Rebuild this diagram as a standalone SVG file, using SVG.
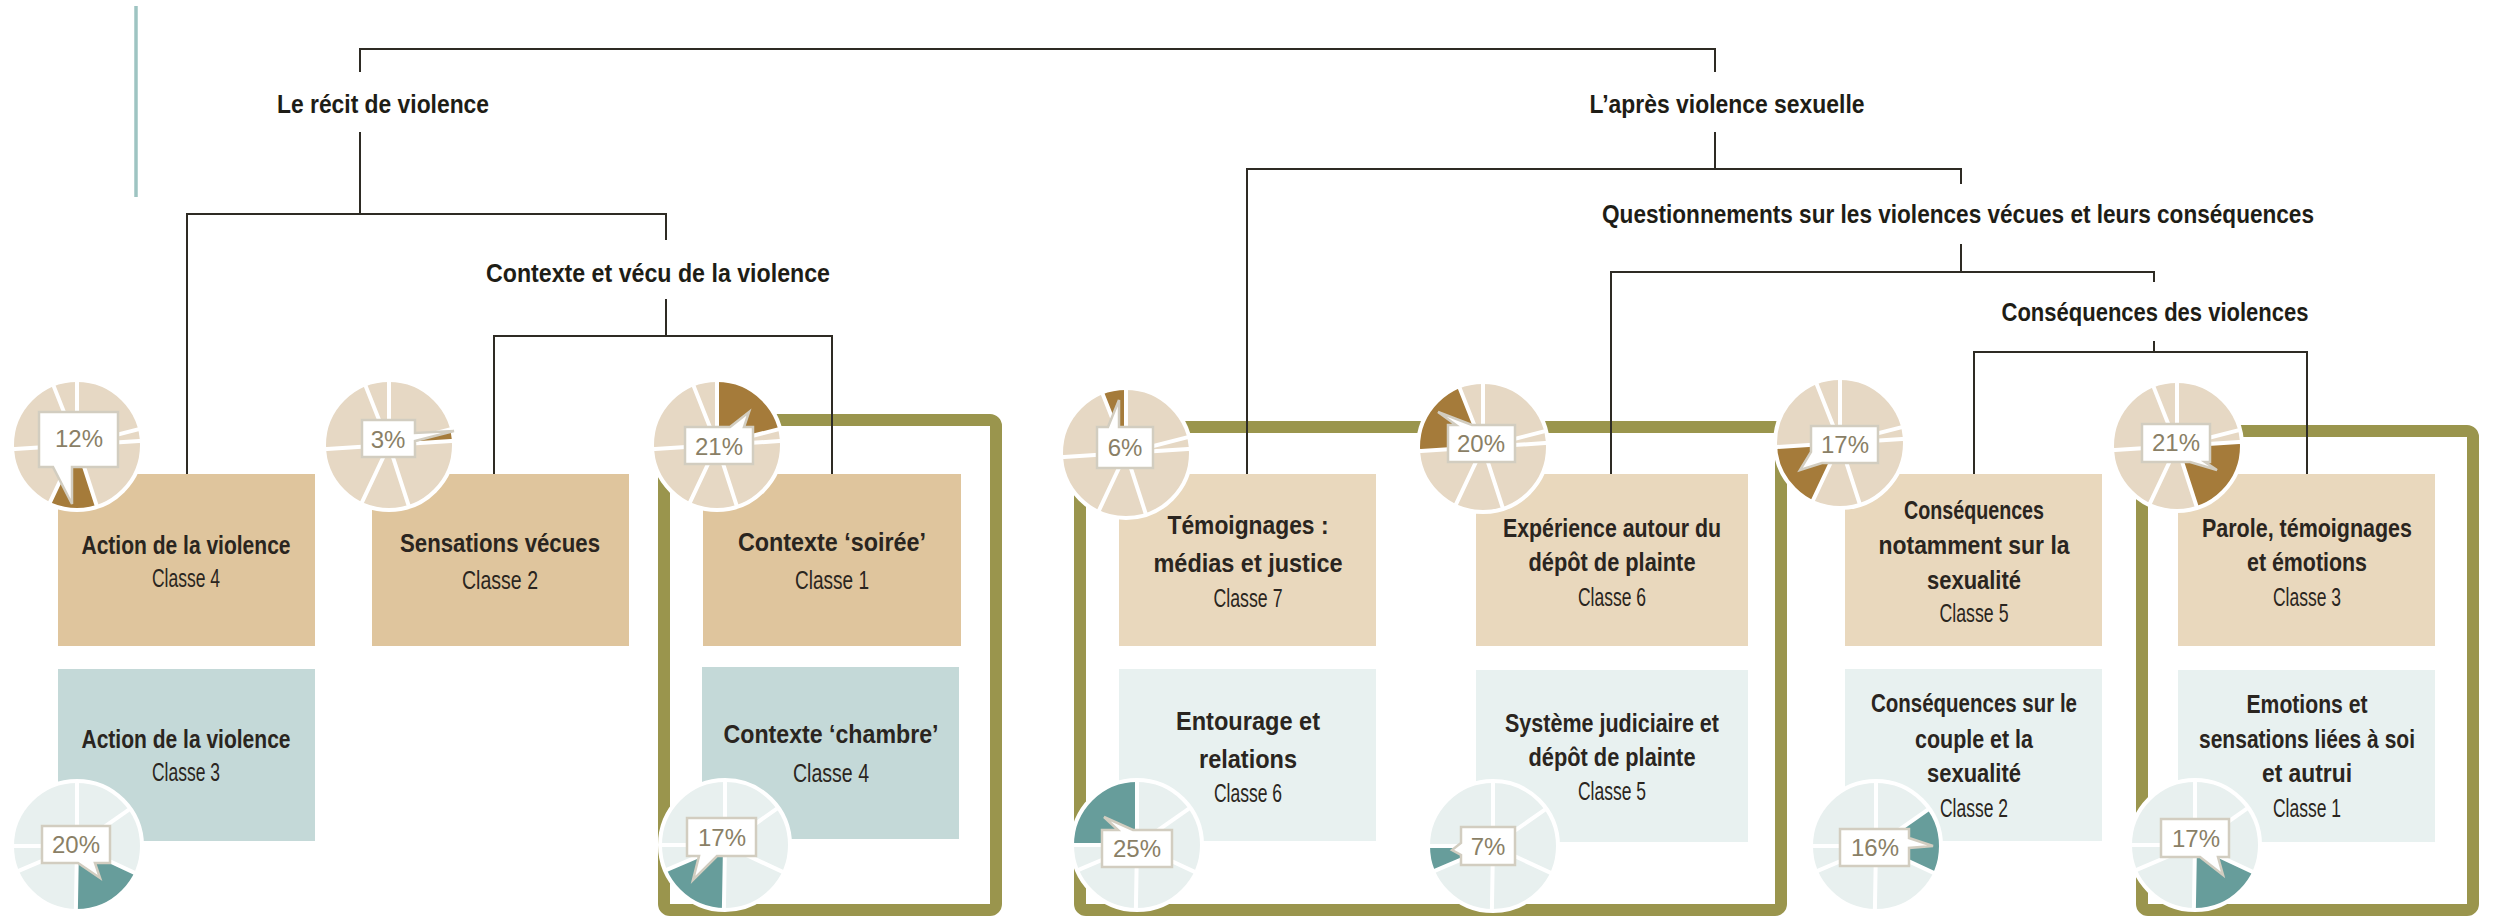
<svg xmlns="http://www.w3.org/2000/svg" xmlns:xlink="http://www.w3.org/1999/xlink" width="2501" height="917" viewBox="0 0 2501 917">
<style>
.bg{fill:#ffffff}
.conn{fill:none;stroke:#2E2B24;stroke-width:2}
.frame{fill:none;stroke:#9A954D;stroke-width:12}
.tanA{fill:#DFC59D}
.tealA{fill:#C4D9D8}
.tanB{fill:#E9D8BD}
.tealB{fill:#E8F1F0}
.hd{font-family:"Liberation Sans Narrow","Liberation Sans",Arial,sans-serif;font-weight:bold;font-size:26px;fill:#1E1D16;text-anchor:middle}
.tt{font-family:"Liberation Sans Narrow","Liberation Sans",Arial,sans-serif;font-weight:bold;font-size:25px;fill:#2A2520;text-anchor:middle}
.cl{font-family:"Liberation Sans Narrow","Liberation Sans",Arial,sans-serif;font-weight:normal;font-size:25px;fill:#2A2520;text-anchor:middle}
.tl{fill:#E6D8C4}
.th{fill:#A57B3A}
.cln{fill:#E8F0EF}
.chh{fill:#679D9B}
.sep{fill:none;stroke:#ffffff;stroke-width:4}
.co{fill:#ffffff;stroke:#D2CDC0;stroke-width:2.5;stroke-linejoin:miter}
.pc{font-family:"Liberation Sans",Arial,sans-serif;font-size:24px;fill:#8A7F66;text-anchor:middle}
</style>
<defs>
<g id="sepT">
<path class="sep" d="M0,0 L0,-66 M0,0 L63.93,-16.41 M0,0 L65.87,-4.14 M0,0 L20.39,62.77 M0,0 L-28.10,59.72 M0,0 L-65.87,4.14 M0,0 L-24.29,-61.37"/>
<circle class="sep" r="65"/>
</g>
<g id="sepC">
<path class="sep" d="M0,0 L0,-66 M0,0 L54.07,-37.86 M0,0 L59.82,27.89 M0,0 L-1.15,65.99 M0,0 L-60.75,25.79 M0,0 L-66,0"/>
<circle class="sep" r="65"/>
</g>
</defs>
<rect class="bg" x="0" y="0" width="2501" height="917"/>
<line x1="136" y1="6" x2="136" y2="197" stroke="#9EC4C2" stroke-width="3.5"/>

<g id="frames">
<rect class="frame" x="664" y="420" width="332" height="490" rx="6"/>
<rect class="frame" x="1080" y="427" width="701" height="483" rx="6"/>
<rect class="frame" x="2142" y="431" width="331" height="479" rx="6"/>
</g>

<g id="connectors">
<path class="conn" d="M360,72 V49 H1715 V72"/>
<path class="conn" d="M360,132 V214"/>
<path class="conn" d="M187,474 V214 H666 V240"/>
<path class="conn" d="M666,299 V336"/>
<path class="conn" d="M494,474 V336 H832 V474"/>
<path class="conn" d="M1715,132 V169"/>
<path class="conn" d="M1247,475 V169 H1961 V184"/>
<path class="conn" d="M1961,244 V272"/>
<path class="conn" d="M1611,475 V272 H2154 V282"/>
<path class="conn" d="M2154,341 V352"/>
<path class="conn" d="M1974,475 V352 H2307 V475"/>
</g>

<g id="labels">
<text class="hd" x="383" y="113" textLength="212" lengthAdjust="spacingAndGlyphs">Le récit de violence</text>
<text class="hd" x="658" y="282" textLength="344" lengthAdjust="spacingAndGlyphs">Contexte et vécu de la violence</text>
<text class="hd" x="1727" y="113" textLength="275" lengthAdjust="spacingAndGlyphs">L’après violence sexuelle</text>
<text class="hd" x="1958" y="223" textLength="712" lengthAdjust="spacingAndGlyphs">Questionnements sur les violences vécues et leurs conséquences</text>
<text class="hd" x="2155" y="321" textLength="307" lengthAdjust="spacingAndGlyphs">Conséquences des violences</text>
</g>

<!-- Tan row -->
<g id="n-action4">
<rect class="tanA" x="58" y="474" width="257" height="172"/>
<text class="tt" x="186" y="554" textLength="209" lengthAdjust="spacingAndGlyphs">Action de la violence</text>
<text class="cl" x="186" y="587" textLength="68" lengthAdjust="spacingAndGlyphs">Classe 4</text>
<g transform="translate(77,445)"><circle class="tl" r="65"/><path class="th" d="M0,0 L20.09,61.82 A65,65 0 0 1 -27.68,58.81 Z"/><use href="#sepT" xlink:href="#sepT"/></g>
<path class="co" d="M39,412 H118 V467 H72 L72,504 L53,467 H39 Z"/>
<text class="pc" x="79" y="447">12%</text>
</g>

<g id="n-sensations2">
<rect class="tanA" x="372" y="474" width="257" height="172"/>
<text class="tt" x="500" y="552" textLength="200" lengthAdjust="spacingAndGlyphs">Sensations vécues</text>
<text class="cl" x="500" y="589" textLength="76" lengthAdjust="spacingAndGlyphs">Classe 2</text>
<g transform="translate(389,445)"><circle class="tl" r="65"/><path class="th" d="M0,0 L62.96,-16.17 A65,65 0 0 1 64.87,-4.08 Z"/><use href="#sepT" xlink:href="#sepT"/></g>
<path class="co" d="M362,420 H415 V433 L454,431 L415,441 V457 H362 Z"/>
<text class="pc" x="388" y="448">3%</text>
</g>

<g id="n-soiree1">
<rect class="tanA" x="703" y="474" width="258" height="172"/>
<text class="tt" x="832" y="551" textLength="188" lengthAdjust="spacingAndGlyphs">Contexte ‘soirée’</text>
<text class="cl" x="832" y="589" textLength="74" lengthAdjust="spacingAndGlyphs">Classe 1</text>
<g transform="translate(717,445)"><circle class="tl" r="65"/><path class="th" d="M0,0 L0,-65 A65,65 0 0 1 62.96,-16.17 Z"/><use href="#sepT" xlink:href="#sepT"/></g>
<path class="co" d="M685,427 H730 L749,412 L744,427 H753 V464 H685 Z"/>
<text class="pc" x="719" y="455">21%</text>
</g>

<g id="n-temoignages7">
<rect class="tanB" x="1119" y="474" width="257" height="172"/>
<text class="tt" x="1248" y="534" textLength="161" lengthAdjust="spacingAndGlyphs">Témoignages :</text>
<text class="tt" x="1248" y="572" textLength="189" lengthAdjust="spacingAndGlyphs">médias et justice</text>
<text class="cl" x="1248" y="607" textLength="69" lengthAdjust="spacingAndGlyphs">Classe 7</text>
<g transform="translate(1126,453)"><circle class="tl" r="65"/><path class="th" d="M0,0 L-23.93,-60.44 A65,65 0 0 1 0,-65 Z"/><use href="#sepT" xlink:href="#sepT"/></g>
<path class="co" d="M1097,427 H1108 L1119,400 L1119,427 H1153 V468 H1097 Z"/>
<text class="pc" x="1125" y="456">6%</text>
</g>

<g id="n-experience6">
<rect class="tanB" x="1476" y="474" width="272" height="172"/>
<text class="tt" x="1612" y="537" textLength="218" lengthAdjust="spacingAndGlyphs">Expérience autour du</text>
<text class="tt" x="1612" y="571" textLength="167" lengthAdjust="spacingAndGlyphs">dépôt de plainte</text>
<text class="cl" x="1612" y="606" textLength="68" lengthAdjust="spacingAndGlyphs">Classe 6</text>
<g transform="translate(1483,447)"><circle class="tl" r="65"/><path class="th" d="M0,0 L-64.87,4.08 A65,65 0 0 1 -23.93,-60.44 Z"/><use href="#sepT" xlink:href="#sepT"/></g>
<path class="co" d="M1448,425 H1456 L1438,412 L1472,425 H1515 V462 H1448 Z"/>
<text class="pc" x="1481" y="452">20%</text>
</g>

<g id="n-consequences5">
<rect class="tanB" x="1845" y="474" width="257" height="172"/>
<text class="tt" x="1974" y="519" textLength="140" lengthAdjust="spacingAndGlyphs">Conséquences</text>
<text class="tt" x="1974" y="554" textLength="191" lengthAdjust="spacingAndGlyphs">notamment sur  la</text>
<text class="tt" x="1974" y="589" textLength="94" lengthAdjust="spacingAndGlyphs">sexualité</text>
<text class="cl" x="1974" y="622" textLength="69" lengthAdjust="spacingAndGlyphs">Classe 5</text>
<g transform="translate(1840,443)"><circle class="tl" r="65"/><path class="th" d="M0,0 L-27.68,58.81 A65,65 0 0 1 -64.87,4.08 Z"/><use href="#sepT" xlink:href="#sepT"/></g>
<path class="co" d="M1811,426 H1878 V463 H1822 L1800,470 L1811,452 Z"/>
<text class="pc" x="1845" y="453">17%</text>
</g>

<g id="n-parole3">
<rect class="tanB" x="2178" y="474" width="257" height="172"/>
<text class="tt" x="2307" y="537" textLength="210" lengthAdjust="spacingAndGlyphs">Parole, témoignages</text>
<text class="tt" x="2307" y="571" textLength="120" lengthAdjust="spacingAndGlyphs">et émotions</text>
<text class="cl" x="2307" y="606" textLength="68" lengthAdjust="spacingAndGlyphs">Classe 3</text>
<g transform="translate(2177,446)"><circle class="tl" r="65"/><path class="th" d="M0,0 L64.87,-4.08 A65,65 0 0 1 20.09,61.82 Z"/><use href="#sepT" xlink:href="#sepT"/></g>
<path class="co" d="M2142,424 H2210 V462 H2205 L2217,470 L2190,462 H2142 Z"/>
<text class="pc" x="2176" y="451">21%</text>
</g>

<!-- Teal row -->
<g id="n-action3">
<rect class="tealA" x="58" y="669" width="257" height="172"/>
<text class="tt" x="186" y="748" textLength="209" lengthAdjust="spacingAndGlyphs">Action de la violence</text>
<text class="cl" x="186" y="781" textLength="68" lengthAdjust="spacingAndGlyphs">Classe 3</text>
<g transform="translate(77,846)"><circle class="cln" r="65"/><path class="chh" d="M0,0 L58.91,27.47 A65,65 0 0 1 -1.13,64.99 Z"/><use href="#sepC" xlink:href="#sepC"/></g>
<path class="co" d="M42,826 H110 V863 H95 L100,878 L78,863 H42 Z"/>
<text class="pc" x="76" y="853">20%</text>
</g>

<g id="n-chambre4">
<rect class="tealA" x="702" y="667" width="257" height="172"/>
<text class="tt" x="831" y="743" textLength="215" lengthAdjust="spacingAndGlyphs">Contexte ‘chambre’</text>
<text class="cl" x="831" y="782" textLength="76" lengthAdjust="spacingAndGlyphs">Classe 4</text>
<g transform="translate(725,845)"><circle class="cln" r="65"/><path class="chh" d="M0,0 L-1.13,64.99 A65,65 0 0 1 -59.83,25.40 Z"/><use href="#sepC" xlink:href="#sepC"/></g>
<path class="co" d="M687,818 H756 V856 H717 L693,880 L699,856 H687 Z"/>
<text class="pc" x="722" y="846">17%</text>
</g>

<g id="n-entourage6">
<rect class="tealB" x="1119" y="669" width="257" height="172"/>
<text class="tt" x="1248" y="730" textLength="144" lengthAdjust="spacingAndGlyphs">Entourage et</text>
<text class="tt" x="1248" y="768" textLength="98" lengthAdjust="spacingAndGlyphs">relations</text>
<text class="cl" x="1248" y="802" textLength="68" lengthAdjust="spacingAndGlyphs">Classe 6</text>
<g transform="translate(1137,845)"><circle class="cln" r="65"/><path class="chh" d="M0,0 L-65,0 A65,65 0 0 1 0,-65 Z"/><use href="#sepC" xlink:href="#sepC"/></g>
<path class="co" d="M1102,830 H1118 L1104,817 L1133,830 H1172 V867 H1102 Z"/>
<text class="pc" x="1137" y="857">25%</text>
</g>

<g id="n-systeme5">
<rect class="tealB" x="1476" y="670" width="272" height="172"/>
<text class="tt" x="1612" y="732" textLength="214" lengthAdjust="spacingAndGlyphs">Système judiciaire et</text>
<text class="tt" x="1612" y="766" textLength="167" lengthAdjust="spacingAndGlyphs">dépôt de plainte</text>
<text class="cl" x="1612" y="800" textLength="68" lengthAdjust="spacingAndGlyphs">Classe 5</text>
<g transform="translate(1493,846)"><circle class="cln" r="65"/><path class="chh" d="M0,0 L-59.83,25.40 A65,65 0 0 1 -65,0 Z"/><use href="#sepC" xlink:href="#sepC"/></g>
<path class="co" d="M1461,827 H1515 V865 H1461 V855 L1452,850 L1461,843 Z"/>
<text class="pc" x="1488" y="855">7%</text>
</g>

<g id="n-couple2">
<rect class="tealB" x="1845" y="669" width="257" height="172"/>
<text class="tt" x="1974" y="712" textLength="206" lengthAdjust="spacingAndGlyphs">Conséquences sur le</text>
<text class="tt" x="1974" y="748" textLength="118" lengthAdjust="spacingAndGlyphs">couple et la</text>
<text class="tt" x="1974" y="782" textLength="94" lengthAdjust="spacingAndGlyphs">sexualité</text>
<text class="cl" x="1974" y="817" textLength="68" lengthAdjust="spacingAndGlyphs">Classe 2</text>
<g transform="translate(1876,846)"><circle class="cln" r="65"/><path class="chh" d="M0,0 L53.25,-37.28 A65,65 0 0 1 58.91,27.47 Z"/><use href="#sepC" xlink:href="#sepC"/></g>
<path class="co" d="M1840,829 H1909 V838 L1933,846 L1909,848 V866 H1840 Z"/>
<text class="pc" x="1875" y="856">16%</text>
</g>

<g id="n-emotions1">
<rect class="tealB" x="2178" y="670" width="257" height="172"/>
<text class="tt" x="2307" y="713" textLength="121" lengthAdjust="spacingAndGlyphs">Emotions et</text>
<text class="tt" x="2307" y="748" textLength="216" lengthAdjust="spacingAndGlyphs">sensations liées à soi</text>
<text class="tt" x="2307" y="782" textLength="90" lengthAdjust="spacingAndGlyphs">et autrui</text>
<text class="cl" x="2307" y="817" textLength="68" lengthAdjust="spacingAndGlyphs">Classe 1</text>
<g transform="translate(2195,845)"><circle class="cln" r="65"/><path class="chh" d="M0,0 L58.91,27.47 A65,65 0 0 1 -1.13,64.99 Z"/><use href="#sepC" xlink:href="#sepC"/></g>
<path class="co" d="M2161,819 H2229 V857 H2218 L2223,875 L2200,857 H2161 Z"/>
<text class="pc" x="2196" y="847">17%</text>
</g>
</svg>
